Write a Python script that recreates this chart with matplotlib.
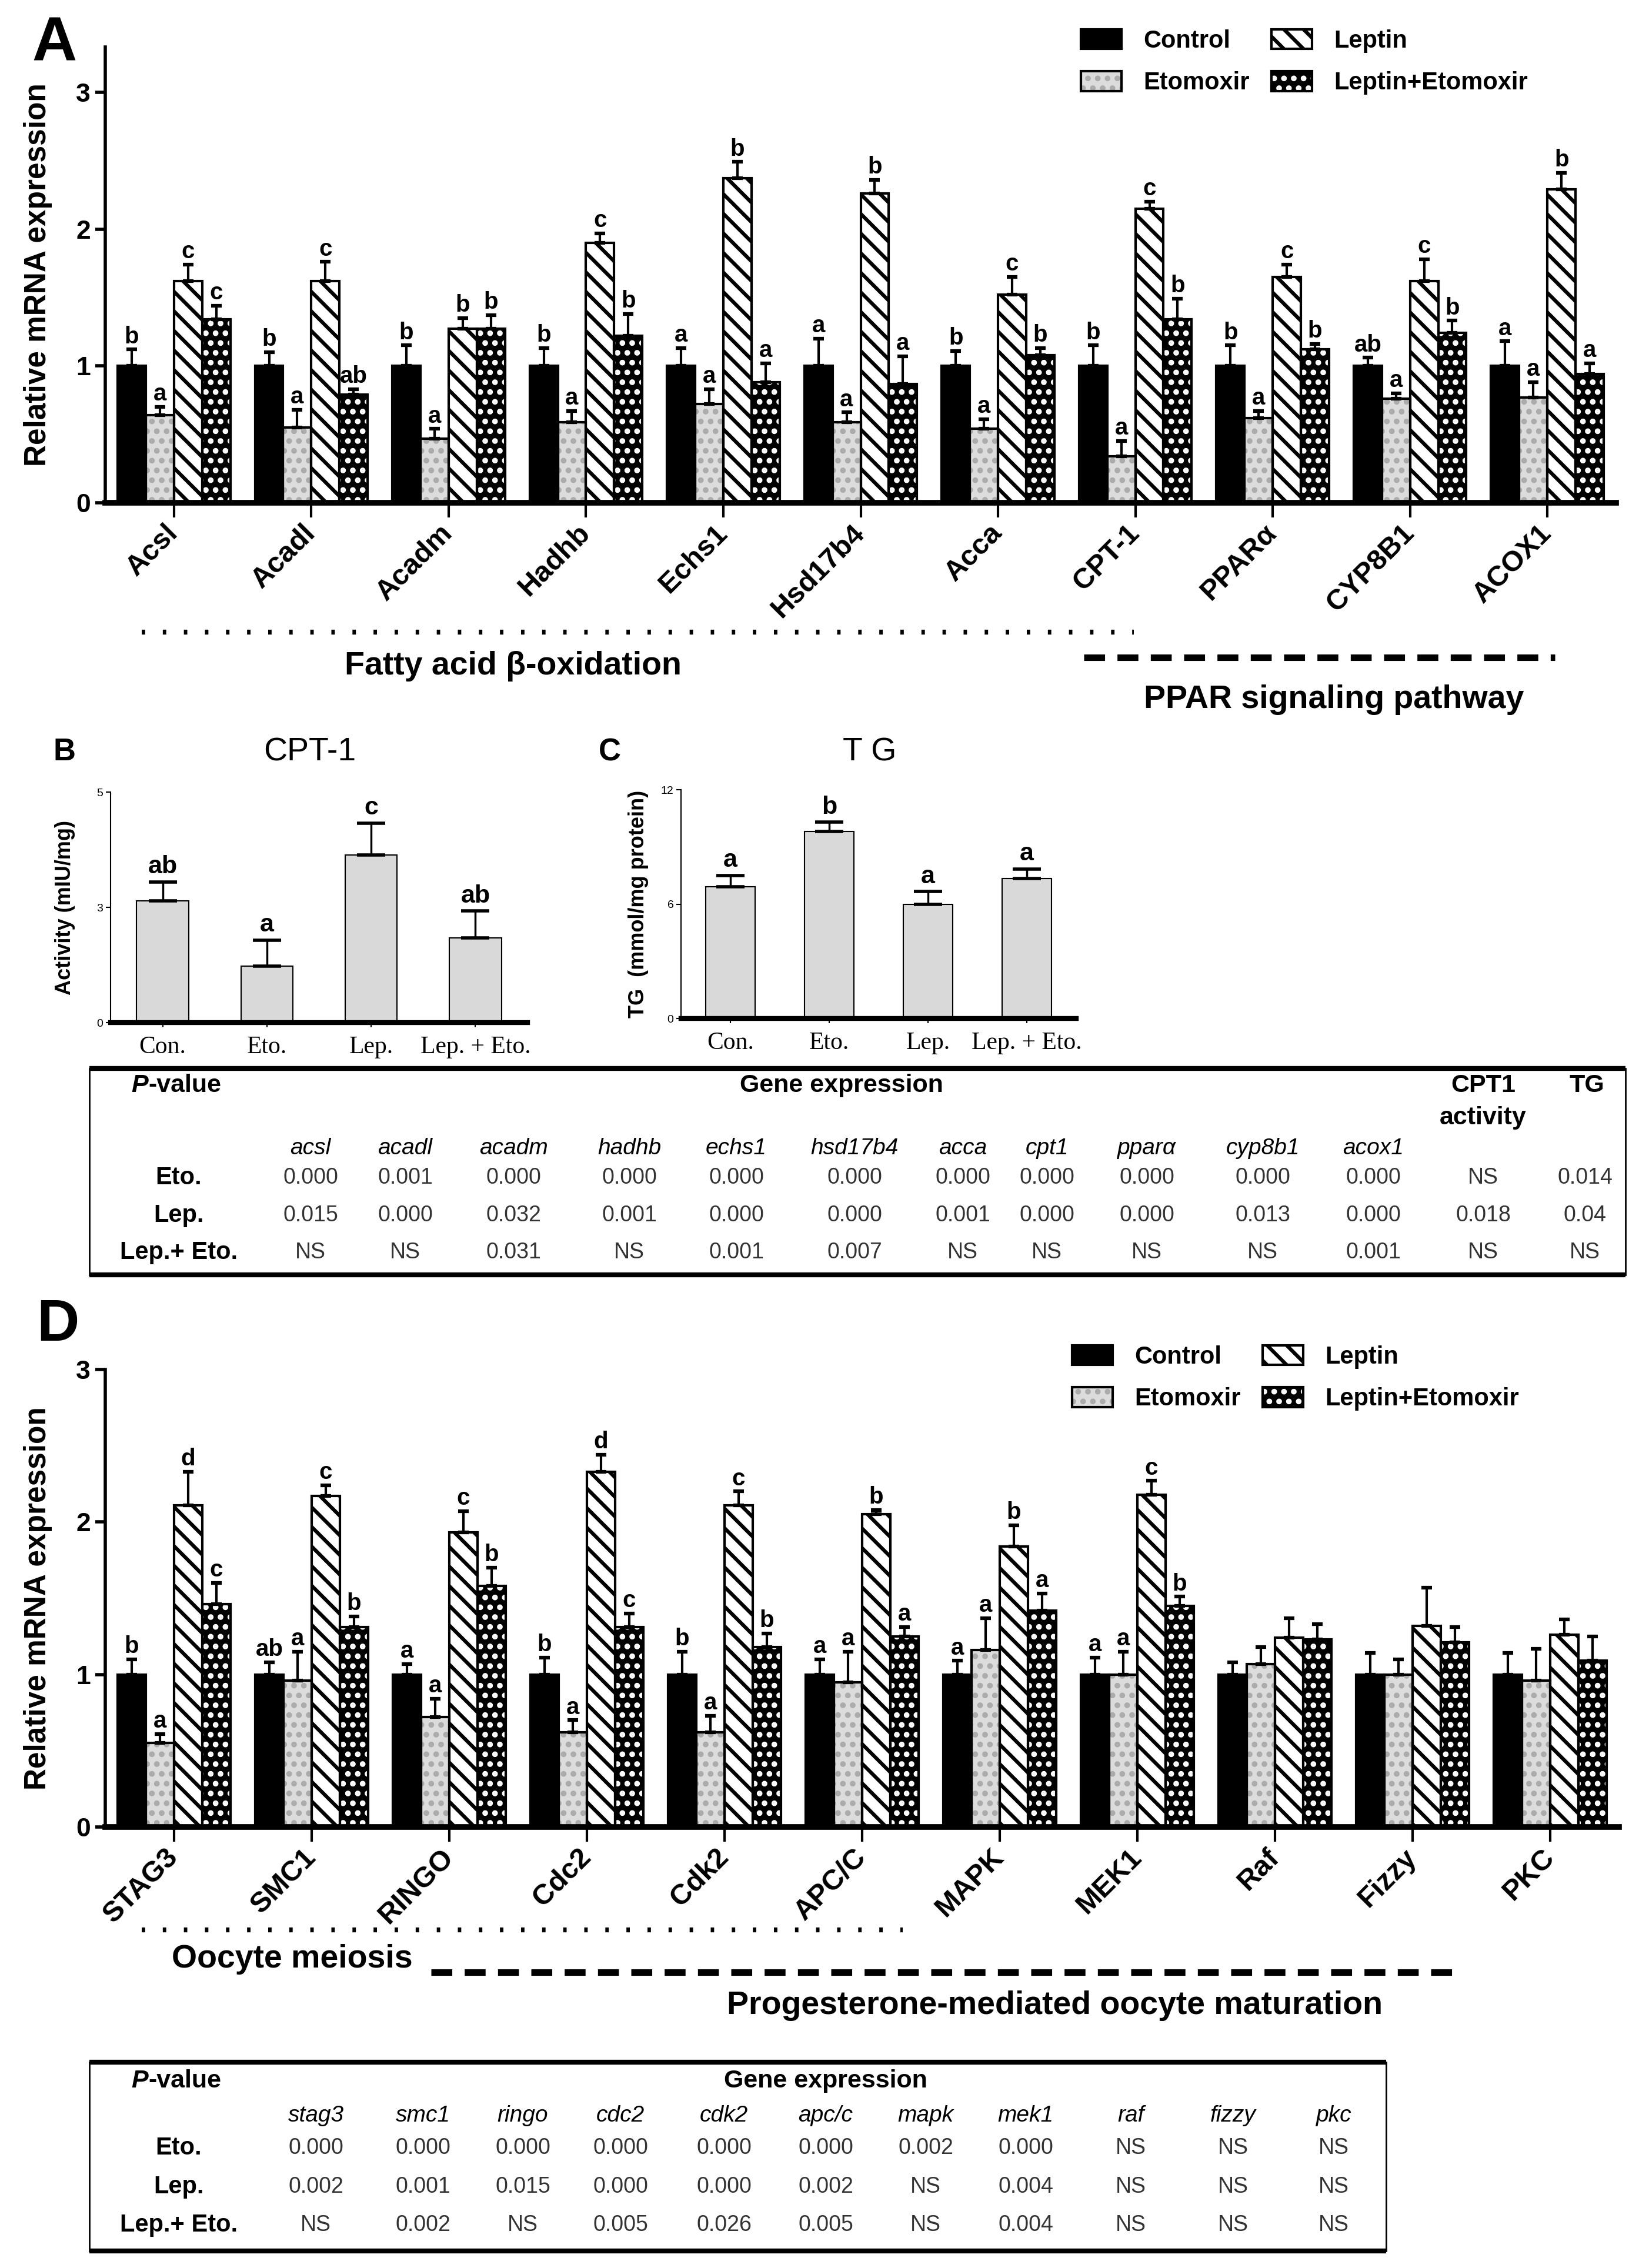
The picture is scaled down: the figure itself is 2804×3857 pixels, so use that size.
import matplotlib
matplotlib.use('Agg')
import matplotlib.pyplot as plt
import numpy as np
from matplotlib.patches import Patch

plt.rcParams['font.family'] = ['Liberation Sans', 'DejaVu Sans']
plt.rcParams['hatch.linewidth'] = 4.5

groups = ['Control', 'Etomoxir', 'Leptin', 'Leptin+Etomoxir']

# ---- panel A: fatty acid genes
genes_a = ['Acsl', 'Acadl', 'Acadm', 'Hadhb', 'Echs1', 'Hsd17b4', 'Acca',
           'CPT-1', 'PPARα', 'CYP8B1', 'ACOX1']
ctrl_a = [1.0, 1.0, 1.0, 1.0, 1.0, 1.0, 1.0, 1.0, 1.0, 1.0, 1.0]
ctrl_a_err = [0.12, 0.10, 0.15, 0.13, 0.13, 0.20, 0.11, 0.15, 0.15, 0.06, 0.18]
eto_a = [0.64, 0.55, 0.47, 0.59, 0.72, 0.59, 0.54, 0.34, 0.62, 0.76, 0.77]
eto_a_err = [0.06, 0.13, 0.07, 0.08, 0.11, 0.07, 0.07, 0.11, 0.05, 0.04, 0.11]
lep_a = [1.62, 1.62, 1.27, 1.90, 2.37, 2.26, 1.52, 2.15, 1.65, 1.62, 2.29]
lep_a_err = [0.12, 0.14, 0.08, 0.07, 0.12, 0.10, 0.13, 0.05, 0.09, 0.16, 0.12]
combo_a = [1.34, 0.79, 1.27, 1.22, 0.88, 0.87, 1.08, 1.34, 1.12, 1.24, 0.94]
combo_a_err = [0.10, 0.04, 0.10, 0.16, 0.14, 0.20, 0.05, 0.15, 0.04, 0.09, 0.08]
letters_a = [['b', 'a', 'c', 'c'], ['b', 'a', 'c', 'ab'], ['b', 'a', 'b', 'b'],
             ['b', 'a', 'c', 'b'], ['a', 'a', 'b', 'a'], ['a', 'a', 'b', 'a'],
             ['b', 'a', 'c', 'b'], ['b', 'a', 'c', 'b'], ['b', 'a', 'c', 'b'],
             ['ab', 'a', 'c', 'b'], ['a', 'a', 'b', 'a']]

# ---- panel B / C
bc_groups = ['Con.', 'Eto.', 'Lep.', 'Lep. + Eto.']
cpt_act = [2.64, 1.22, 3.64, 1.84]
cpt_act_err = [0.41, 0.57, 0.69, 0.58]
cpt_letters = ['ab', 'a', 'c', 'ab']
tg = [6.9, 9.8, 5.97, 7.34]
tg_err = [0.6, 0.5, 0.68, 0.51]
tg_letters = ['a', 'b', 'a', 'a']

# ---- table 1
tab1_cols = ['acsl', 'acadl', 'acadm', 'hadhb', 'echs1', 'hsd17b4', 'acca',
             'cpt1', 'pparα', 'cyp8b1', 'acox1']
tab1_rows = ['Eto.', 'Lep.', 'Lep.+ Eto.']
tab1_vals = [
    ['0.000', '0.001', '0.000', '0.000', '0.000', '0.000', '0.000', '0.000', '0.000', '0.000', '0.000', 'NS', '0.014'],
    ['0.015', '0.000', '0.032', '0.001', '0.000', '0.000', '0.001', '0.000', '0.000', '0.013', '0.000', '0.018', '0.04'],
    ['NS', 'NS', '0.031', 'NS', '0.001', '0.007', 'NS', 'NS', 'NS', 'NS', '0.001', 'NS', 'NS'],
]

# ---- panel D: oocyte maturation genes
genes_d = ['STAG3', 'SMC1', 'RINGO', 'Cdc2', 'Cdk2', 'APC/C', 'MAPK', 'MEK1',
           'Raf', 'Fizzy', 'PKC']
ctrl_d = [1.0, 1.0, 1.0, 1.0, 1.0, 1.0, 1.0, 1.0, 1.0, 1.0, 1.0]
ctrl_d_err = [0.10, 0.08, 0.07, 0.11, 0.15, 0.10, 0.09, 0.11, 0.08, 0.14, 0.14]
eto_d = [0.55, 0.96, 0.72, 0.62, 0.62, 0.95, 1.16, 1.0, 1.07, 1.0, 0.96]
eto_d_err = [0.06, 0.19, 0.12, 0.08, 0.11, 0.20, 0.21, 0.15, 0.11, 0.10, 0.21]
lep_d = [2.11, 2.17, 1.93, 2.33, 2.11, 2.05, 1.84, 2.18, 1.24, 1.32, 1.26]
lep_d_err = [0.22, 0.07, 0.14, 0.11, 0.09, 0.03, 0.14, 0.09, 0.13, 0.25, 0.10]
combo_d = [1.46, 1.31, 1.58, 1.31, 1.18, 1.25, 1.42, 1.45, 1.23, 1.21, 1.09]
combo_d_err = [0.14, 0.07, 0.12, 0.09, 0.09, 0.06, 0.11, 0.06, 0.10, 0.10, 0.16]
letters_d = [['b', 'a', 'd', 'c'], ['ab', 'a', 'c', 'b'], ['a', 'a', 'c', 'b'],
             ['b', 'a', 'd', 'c'], ['b', 'a', 'c', 'b'], ['a', 'a', 'b', 'a'],
             ['a', 'a', 'b', 'a'], ['a', 'a', 'c', 'b'], ['', '', '', ''],
             ['', '', '', ''], ['', '', '', '']]

tab2_cols = ['stag3', 'smc1', 'ringo', 'cdc2', 'cdk2', 'apc/c', 'mapk', 'mek1',
             'raf', 'fizzy', 'pkc']
tab2_vals = [
    ['0.000', '0.000', '0.000', '0.000', '0.000', '0.000', '0.002', '0.000', 'NS', 'NS', 'NS'],
    ['0.002', '0.001', '0.015', '0.000', '0.000', '0.002', 'NS', '0.004', 'NS', 'NS', 'NS'],
    ['NS', '0.002', 'NS', '0.005', '0.026', '0.005', 'NS', '0.004', 'NS', 'NS', 'NS'],
]

W, H = 2804, 3857
fig = plt.figure(figsize=(W / 100, H / 100), dpi=100)


def px_axes(x0, x1, y_top, y_bot):
    return fig.add_axes([x0 / W, 1 - y_bot / H, (x1 - x0) / W, (y_bot - y_top) / H])


# fill, hatch colour, hatch
styles = [('black', 'black', None),
          ('#dcdcdc', '#ababab', '.'),
          ('white', 'black', '\\'),
          ('black', 'white', '.')]


def grouped(ax, genes, series, errs, letters, ymax):
    x = np.arange(len(genes))
    w = 0.205
    for k in range(4):
        pos = x + (k - 1.5) * w
        face, hc, hatch = styles[k]
        vals = np.array(series[k])
        err = np.array(errs[k])
        ax.bar(pos, vals, w, color=face, edgecolor=hc, hatch=hatch, linewidth=0, zorder=2)
        ax.bar(pos, vals, w, fill=False, edgecolor='black', linewidth=3, zorder=3)
        ax.errorbar(pos, vals, yerr=[np.zeros(len(vals)), err], fmt='none', ecolor='black',
                    elinewidth=3, capsize=6.5, capthick=4.5, zorder=4)
        for i in range(len(genes)):
            if letters[i][k]:
                ax.annotate(letters[i][k], (pos[i], vals[i] + err[i]), xytext=(0, 2),
                            textcoords='offset points', ha='center', va='bottom',
                            fontsize=29, fontweight='bold')
    ax.set_xlim(-0.5, len(genes) - 0.5)
    ax.set_ylim(0, ymax)
    ax.set_yticks([0, 1, 2, 3])
    ax.set_xticks(x)
    ax.set_xticklabels(genes, rotation=45, ha='right', va='center', rotation_mode='anchor',
                       fontsize=35, fontweight='bold')
    for t in ax.get_yticklabels():
        t.set_fontweight('bold')
    ax.tick_params(axis='y', labelsize=32, length=12, width=4, pad=6)
    ax.tick_params(axis='x', length=18, width=3, pad=14)
    ax.spines['top'].set_visible(False)
    ax.spines['right'].set_visible(False)
    ax.spines['left'].set_linewidth(4)
    ax.spines['bottom'].set_linewidth(7)
    ax.set_ylabel('Relative mRNA expression', fontsize=37, fontweight='bold')
    ax.yaxis.set_label_coords(-0.035, 0.5)

    handles = [Patch(facecolor='black', edgecolor='black', linewidth=3),
               (Patch(facecolor='#dcdcdc', edgecolor='#ababab', hatch='.', linewidth=0),
                Patch(fill=False, edgecolor='black', linewidth=3)),
               Patch(facecolor='white', edgecolor='black', hatch='\\', linewidth=3),
               (Patch(facecolor='black', edgecolor='white', hatch='.', linewidth=0),
                Patch(fill=False, edgecolor='black', linewidth=3))]
    return handles


legend_kw = dict(loc='upper left', ncol=2, frameon=False, prop={'size': 30, 'weight': 'bold'},
                 handlelength=1.65, handleheight=0.85, handletextpad=0.9, columnspacing=0.9,
                 labelspacing=0.75, borderpad=0, borderaxespad=0)

# panel A
axA = px_axes(179, 2748, 80, 855)
hA = grouped(axA, genes_a, [ctrl_a, eto_a, lep_a, combo_a],
             [ctrl_a_err, eto_a_err, lep_a_err, combo_a_err], letters_a, 3.33)
fig.legend(hA, groups, bbox_to_anchor=(1838 / W, 1 - 50 / H), **legend_kw)

# panel D
axD = px_axes(179, 2753, 2329, 3107)
hD = grouped(axD, genes_d, [ctrl_d, eto_d, lep_d, combo_d],
             [ctrl_d_err, eto_d_err, lep_d_err, combo_d_err], letters_d, 3.0)
fig.legend(hD, groups, bbox_to_anchor=(1823 / W, 1 - 2288 / H), **legend_kw)


def small_bar(ax, vals, errs, letters, ticks, ticklabels, ylabel, ylabel_x):
    x = np.arange(len(vals))
    ax.bar(x, vals, 0.5, color='#d9d9d9', edgecolor='black', linewidth=1.5, zorder=2)
    ax.errorbar(x, vals, yerr=[np.zeros(len(vals)), errs], fmt='none', ecolor='black',
                elinewidth=2.5, capsize=17, capthick=4, zorder=3)
    for i in range(len(vals)):
        ax.annotate(letters[i], (x[i], vals[i] + errs[i]), xytext=(0, 4),
                    textcoords='offset points', ha='center', va='bottom',
                    fontsize=31, fontweight='bold')
    ax.set_xlim(-0.5, len(vals) - 0.5)
    ax.set_ylim(0, ticks[-1])
    ax.set_yticks(ticks)
    ax.set_yticklabels(ticklabels)
    ax.set_xticks(x)
    ax.set_xticklabels(bc_groups, family=['Liberation Serif', 'DejaVu Serif'], fontsize=30)
    ax.tick_params(axis='y', labelsize=14, length=6, width=1.5, pad=3)
    ax.tick_params(axis='x', length=6, width=1.5, pad=10)
    ax.spines['top'].set_visible(False)
    ax.spines['right'].set_visible(False)
    ax.spines['left'].set_linewidth(1.5)
    ax.spines['bottom'].set_linewidth(6)
    ax.set_ylabel(ylabel, fontsize=26, fontweight='bold')
    ax.yaxis.set_label_coords(ylabel_x, 0.5)


axB = px_axes(188, 897, 1347, 1739)
small_bar(axB, cpt_act, cpt_act_err, cpt_letters, [0, 2.5, 5], ['0', '3', '5'],
          'Activity (mIU/mg)', -0.085)
axC = px_axes(1158, 1830, 1343, 1732)
small_bar(axC, tg, tg_err, tg_letters, [0, 6, 12], ['0', '6', '12'],
          'TG  (mmol/mg protein)', -0.082)

# overlay for panel letters, group brackets and tables
ov = fig.add_axes([0, 0, 1, 1])
ov.set_xlim(0, W)
ov.set_ylim(H, 0)
ov.axis('off')

ov.text(54, 103, 'A', fontsize=76, fontweight='bold', ha='left', va='baseline')
ov.text(62, 2280, 'D', fontsize=72, fontweight='bold', ha='left', va='baseline')
ov.text(91, 1293, 'B', fontsize=38, fontweight='bold', ha='left', va='baseline')
ov.text(1018, 1293, 'C', fontsize=38, fontweight='bold', ha='left', va='baseline')
ov.text(527, 1293, 'CPT-1', fontsize=40, ha='center', va='baseline')
ov.text(1479, 1293, 'T G', fontsize=40, ha='center', va='baseline')

# pathway brackets
ov.plot([241, 1928], [1075, 1075], color='black', lw=6, linestyle=(0, (0.7, 3.6)),
        dash_capstyle='butt')
ov.plot([1843, 2644], [1118, 1118], color='black', lw=8, linestyle=(0, (3.2, 1.9)),
        dash_capstyle='butt')
ov.text(873, 1133, 'Fatty acid β-oxidation', fontsize=40, fontweight='bold', ha='center', va='center')
ov.text(2268, 1190, 'PPAR signaling pathway', fontsize=40, fontweight='bold', ha='center', va='center')
ov.plot([241, 1535], [3282, 3282], color='black', lw=6, linestyle=(0, (0.7, 3.6)),
        dash_capstyle='butt')
ov.plot([733, 2487], [3354, 3354], color='black', lw=8, linestyle=(0, (3.2, 1.9)),
        dash_capstyle='butt')
ov.text(497, 3332, 'Oocyte meiosis', fontsize=40, fontweight='bold', ha='center', va='center')
ov.text(1794, 3411, 'Progesterone-mediated oocyte maturation', fontsize=40,
        fontweight='bold', ha='center', va='center')


def table_box(x0, x1, y0, y1):
    ov.plot([x0, x1], [y0, y0], color='black', lw=6, solid_capstyle='butt')
    ov.plot([x0, x1], [y1, y1], color='black', lw=6, solid_capstyle='butt')
    ov.plot([x0, x0], [y0, y1], color='black', lw=2)
    ov.plot([x1, x1], [y0, y1], color='black', lw=2)


def pvalue_head(y):
    ov.text(252, y, 'P', fontsize=31, fontweight='bold', style='italic', ha='right', va='center')
    ov.text(252, y, '-value', fontsize=31, fontweight='bold', ha='left', va='center')


# table 1
table_box(152, 2764, 1817, 2168)
pvalue_head(1846)
ov.text(1431, 1846, 'Gene expression', fontsize=31, fontweight='bold', ha='center', va='center')
ov.text(2522, 1846, 'CPT1', fontsize=31, fontweight='bold', ha='center', va='center')
ov.text(2522, 1901, 'activity', fontsize=31, fontweight='bold', ha='center', va='center')
ov.text(2698, 1846, 'TG', fontsize=31, fontweight='bold', ha='center', va='center')
t1_x = [528, 689, 873, 1070, 1252, 1453, 1637, 1780, 1950, 2147, 2335, 2522, 2695]
t1_y = [2003, 2067, 2130]
for j, name in enumerate(tab1_cols):
    ov.text(t1_x[j], 1953, name, fontsize=28, style='italic', ha='center', va='center')
for r, row in enumerate(tab1_vals):
    ov.text(304, t1_y[r], tab1_rows[r], fontsize=30, fontweight='bold', ha='center', va='center')
    for j, v in enumerate(row):
        ov.text(t1_x[j], t1_y[r], v, fontsize=27, color='#333333', ha='center', va='center')

# table 2
table_box(152, 2357, 3507, 3828)
pvalue_head(3539)
ov.text(1404, 3539, 'Gene expression', fontsize=31, fontweight='bold', ha='center', va='center')
t2_x = [537, 719, 889, 1055, 1231, 1404, 1574, 1744, 1923, 2097, 2268]
t2_y = [3653, 3719, 3784]
for j, name in enumerate(tab2_cols):
    ov.text(t2_x[j], 3598, name, fontsize=28, style='italic', ha='center', va='center')
for r, row in enumerate(tab2_vals):
    ov.text(304, t2_y[r], tab1_rows[r], fontsize=30, fontweight='bold', ha='center', va='center')
    for j, v in enumerate(row):
        ov.text(t2_x[j], t2_y[r], v, fontsize=27, color='#333333', ha='center', va='center')

fig.savefig('out.png', dpi=100)
